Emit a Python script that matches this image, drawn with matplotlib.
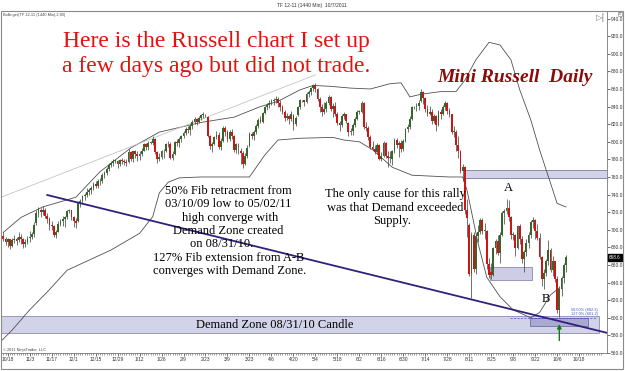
import matplotlib
matplotlib.use("Agg")
import matplotlib.pyplot as plt
from matplotlib.patches import Rectangle
import numpy as np

W, H = 625, 371          # output size in pixels
SERIF = "Liberation Serif"
SANS = "Liberation Sans"

# TF 12-11 daily bars, 10/14/2010 .. 10/7/2011 (one line per week)
opens = [
    693, 690,
    686, 689, 682, 688, 690,  688, 692, 689, 684, 686,  691, 692, 695, 708, 719,
    722, 720, 723, 716, 712,  705, 704, 694, 698, 707,  710, 712, 714, 721, 722,
    714, 710, 710, 730, 733,  738, 739, 743, 745, 748,  752, 750, 756, 755, 762,
    765, 769, 774, 776, 778,  778, 775, 779, 778, 777,  777, 788, 781, 789, 786,
    784, 786, 790, 797, 794,  799, 799, 803, 788, 781,  783, 789, 790, 797, 798,
    782, 786, 800, 799, 803,  806, 810, 815, 813, 818,  823, 826, 822, 827, 830,
    831, 828, 806, 795, 797,  805, 808, 794, 801, 816,  811, 803, 811, 807, 791,
    795, 790, 787, 775, 784,  795, 809, 806, 811, 818,  825, 823, 833, 839, 842,
    844, 846, 847, 849, 844,  839, 834, 827, 829, 826,  830, 820, 830, 839, 847,
    847, 845, 854, 857, 861,  864, 860, 849, 839, 834,  837, 844, 851, 837, 841,
    832, 821, 819, 829, 831,  821, 811, 812, 819, 826,  834, 834, 844, 817, 816,
    805, 794, 792, 788, 796,  781, 784, 799, 784, 782,  780, 789, 802, 796, 799,
    792, 801, 814, 817, 826,  839, 839, 841, 846, 857,  850, 837, 832, 834, 824,
    829, 819, 834, 831, 839,  844, 835, 831, 811, 811,  796, 789, 767, 771, 722,
    705, 650, 694, 655, 693,  697, 711, 699, 699, 661,  652, 649, 679, 687, 674,
    694, 719, 721, 725, 714,  694, 694, 679, 704, 689,  667, 675, 685, 694, 709,
    711, 699, 691, 669, 644,  651, 664, 677, 654, 664,  644, 609, 633, 645, 660,
]
highs = [
    697, 692,
    691, 690, 691, 694, 692,  697, 695, 691, 690, 693,  699, 698, 709, 722, 726,
    725, 727, 725, 719, 714,  710, 706, 700, 710, 712,  716, 716, 723, 724, 723,
    716, 713, 732, 735, 740,  742, 747, 747, 750, 754,  756, 758, 759, 764, 767,
    771, 776, 778, 780, 779,  779, 781, 782, 781, 780,  792, 790, 790, 791, 789,
    789, 793, 799, 799, 801,  801, 806, 804, 790, 787,  791, 792, 799, 801, 800,
    789, 801, 803, 805, 808,  812, 817, 818, 820, 825,  828, 827, 829, 832, 834,
    832, 829, 808, 800, 807,  812, 811, 804, 818, 818,  813, 813, 814, 808, 799,
    799, 793, 790, 787, 796,  811, 811, 813, 820, 827,  829, 834, 841, 844, 848,
    849, 850, 852, 851, 847,  842, 836, 833, 830, 835,  831, 829, 841, 849, 848,
    848, 856, 859, 862, 866,  867, 861, 851, 843, 845,  846, 853, 852, 844, 845,
    834, 824, 831, 834, 832,  822, 816, 821, 828, 836,  836, 846, 845, 823, 818,
    808, 801, 796, 799, 797,  788, 801, 800, 790, 789,  791, 804, 804, 801, 802,
    803, 816, 820, 829, 841,  841, 844, 847, 860, 858,  851, 842, 841, 837, 832,
    830, 836, 837, 842, 846,  845, 838, 832, 818, 813,  806, 791, 775, 772, 735,
    708, 697, 698, 696, 705,  713, 713, 708, 700, 668,  662, 681, 690, 694, 697,
    721, 724, 735, 734, 716,  697, 695, 706, 707, 693,  677, 690, 698, 711, 715,
    712, 707, 696, 670, 656,  667, 688, 679, 670, 665,  648, 636, 648, 662, 671,
]
lows = [
    687, 683,
    680, 678, 681, 685, 683,  686, 684, 679, 681, 684,  686, 689, 692, 706, 715,
    715, 717, 713, 708, 700,  700, 692, 691, 697, 704,  704, 703, 712, 719, 711,
    703, 702, 709, 726, 729,  734, 737, 739, 741, 745,  747, 748, 751, 753, 759,
    762, 767, 771, 773, 776,  770, 773, 775, 774, 772,  776, 778, 777, 782, 778,
    779, 784, 789, 791, 791,  797, 796, 786, 776, 778,  781, 782, 788, 794, 780,
    779, 785, 795, 794, 800,  804, 808, 810, 808, 814,  820, 819, 821, 825, 827,
    828, 805, 792, 788, 796,  803, 792, 791, 800, 807,  800, 801, 803, 788, 787,
    786, 775, 770, 774, 782,  794, 803, 802, 809, 816,  821, 821, 831, 836, 838,
    842, 842, 844, 840, 835,  832, 824, 825, 820, 824,  813, 818, 829, 837, 845,
    841, 844, 851, 853, 858,  856, 846, 834, 829, 832,  834, 842, 835, 828, 829,
    819, 812, 817, 826, 821,  806, 808, 808, 817, 825,  832, 833, 815, 812, 802,
    792, 791, 786, 786, 779,  778, 783, 782, 771, 776,  774, 787, 793, 783, 788,
    789, 800, 811, 815, 825,  837, 835, 836, 845, 843,  834, 829, 830, 820, 821,
    812, 818, 826, 830, 836,  832, 828, 809, 805, 789,  782, 764, 756, 718, 692,
    648, 622, 652, 650, 686,  695, 695, 690, 656, 645,  644, 648, 673, 671, 662,
    693, 707, 718, 710, 690,  688, 670, 678, 684, 662,  652, 670, 679, 691, 702,
    690, 688, 667, 636, 633,  647, 660, 652, 648, 641,  606, 601, 625, 640, 652,
]
closes = [
    690, 686,
    689, 682, 688, 690, 687,  692, 689, 684, 686, 690,  692, 695, 706, 719, 722,
    720, 723, 716, 712, 705,  704, 694, 697, 707, 710,  712, 714, 721, 722, 714,
    710, 708, 730, 733, 738,  739, 743, 745, 748, 752,  750, 756, 755, 762, 765,
    769, 774, 776, 778, 778,  775, 779, 778, 777, 776,  788, 781, 789, 786, 784,
    786, 790, 797, 794, 799,  799, 803, 788, 781, 783,  789, 790, 797, 798, 782,
    786, 800, 799, 803, 806,  810, 815, 813, 818, 823,  826, 822, 827, 830, 831,
    831, 806, 795, 797, 805,  808, 794, 801, 816, 811,  803, 811, 807, 791, 797,
    794, 787, 775, 784, 793,  809, 806, 811, 818, 825,  823, 833, 839, 842, 844,
    846, 847, 849, 844, 839,  834, 827, 829, 826, 832,  820, 827, 839, 847, 847,
    845, 854, 857, 861, 864,  860, 849, 839, 834, 837,  844, 851, 837, 841, 832,
    821, 819, 829, 831, 824,  811, 812, 819, 826, 834,  834, 844, 817, 816, 805,
    794, 792, 788, 796, 781,  784, 799, 784, 782, 782,  789, 802, 796, 799, 792,
    801, 814, 817, 826, 839,  839, 841, 844, 857, 850,  837, 832, 834, 824, 829,
    819, 834, 831, 839, 844,  835, 831, 811, 811, 796,  789, 767, 771, 722, 713,
    650, 694, 655, 693, 697,  711, 699, 699, 661, 649,  649, 679, 687, 674, 694,
    719, 721, 725, 714, 694,  694, 679, 704, 689, 667,  675, 685, 694, 709, 711,
    699, 691, 669, 644, 651,  664, 677, 654, 664, 644,  609, 633, 645, 660, 668.6,
]

# Bollinger bands (bar number, price)
upper_bars = [0, 8, 18, 33, 44, 58, 71, 90, 105, 117, 125, 135, 141, 149, 158, 167, 176,
              181, 185, 190, 199, 206, 210, 215, 221, 226, 231, 235, 240, 244, 249, 252, 256]
upper_band = [697, 714, 726, 737, 766, 793, 811, 822, 828, 840, 846, 859, 864, 863, 861, 860, 866,
              867, 851, 854, 857, 857, 870, 893, 913, 910, 893, 859, 825, 791, 753, 730, 726]
lower_bars = [-2, 4, 12, 21, 29, 49, 62, 68, 71, 75, 80, 90, 112, 119, 125, 135, 150,
              155, 162, 168, 177, 186, 203, 209, 211, 216, 220, 226, 232, 240, 244, 249, 253]
lower_band = [571, 586, 609, 632, 654, 677, 696, 715, 742, 754, 759, 760, 760, 785, 802, 804, 805,
              802, 800, 791, 771, 762, 760, 760, 745, 685, 646, 624, 609, 600, 606, 626, 634]

# drawn objects (bar number, price)
trend_bars = [20, 275]
trend_prices = [739.5, 582.7]
old_trend_bars = [-2, 142]
old_trend_prices = [736, 876]
demand_zone = (-1, 271, 582.5, 602.0)       # bar from, bar to, low, high
fib_zone = (239.6, 266, 590.7, 599.8)
ab_zone = (221.4, 240.5, 642.7, 657.5)
supply_zone = (210, 276, 759, 768)
fib_line_bars = [230.5, 270]
fib_price = 599.4
low_bar = 253
last_price = 668.6

x_labels = ["10/18", "11/3", "11/17", "12/1", "12/15", "12/29", "1/12", "1/26", "2/9",
            "2/23", "3/9", "3/23", "4/6", "4/20", "5/4", "5/18", "6/2", "6/16", "6/30",
            "7/14", "7/28", "8/11", "8/25", "9/8", "9/22", "10/6", "10/18"]


def ftext(fig, x, y, s, **kw):
    # place text by pixel position on the 625x371 canvas
    fig.text(x / W, 1 - y / H, s, **kw)


def draw_candles(ax):
    o = np.array(opens, float)
    h = np.array(highs, float)
    l = np.array(lows, float)
    c = np.array(closes, float)
    x = np.arange(len(c))
    up = c >= o
    ax.vlines(x, l, h, color="#4a4a4a", lw=0.55, zorder=3)
    body = np.maximum(np.abs(c - o), 0.8)
    colors = np.where(up, "#35662a", "#cc1616")
    ax.bar(x, body, bottom=np.minimum(o, c), width=0.82, color=colors,
           edgecolor="none", zorder=4)


def draw_zone(ax, zone, face, edge):
    x0, x1, p0, p1 = zone
    ax.add_patch(Rectangle((x0, p0), x1 - x0, p1 - p0, facecolor=face,
                           edgecolor=edge, lw=0.6, zorder=1))


def main():
    fig = plt.figure(figsize=(W / 100, H / 100), dpi=100)
    ax = fig.add_axes([2 / W, 1 - 353 / H, 605 / W, 342 / H])
    ax.set_xlim(-0.6, 274.7)
    ax.set_ylim(560, 948.6)

    # zones behind the candles
    draw_zone(ax, demand_zone, "#d2d2e9", "#8c8cb4")
    draw_zone(ax, supply_zone, "#d2d2e9", "#7a7aa6")
    draw_zone(ax, ab_zone, "#cdcde6", "#8a8ab2")
    draw_zone(ax, fib_zone, "#a9a9d2", "#6f6fa3")
    ax.plot(fib_line_bars, [fib_price, fib_price], color="#3a52c4", lw=0.5,
            ls=(0, (3, 2)), zorder=2)

    # bollinger bands + old gray trendline
    ax.plot(upper_bars, upper_band, color="#505050", lw=0.6, zorder=2)
    ax.plot(lower_bars, lower_band, color="#505050", lw=0.6, zorder=2)
    ax.plot(old_trend_bars, old_trend_prices, color="#c4c4c4", lw=0.6, zorder=2)

    draw_candles(ax)

    ax.plot(trend_bars, trend_prices, color="#33207c", lw=1.3, zorder=5)
    ax.annotate("", xy=(low_bar, 596), xytext=(low_bar, 571),
                arrowprops=dict(arrowstyle="-|>", color="#17781a", lw=1.0,
                                mutation_scale=6), zorder=6)

    ax.text(229.6, 744, "A", family=SERIF, fontsize=9, ha="center", va="baseline")
    ax.text(246.9, 618, "B", family=SERIF, fontsize=9, ha="center", va="baseline")

    # axes styling, NinjaTrader look
    ax.yaxis.tick_right()
    ax.set_yticks(np.arange(560, 941, 20))
    ax.set_yticklabels([f"{v:.1f}" for v in np.arange(560, 941, 20)])
    ax.set_xticks([2 + 10 * k for k in range(len(x_labels))])
    ax.set_xticklabels(x_labels)
    ax.set_xticks(np.arange(0, 273), minor=True)
    ax.tick_params(axis="both", which="major", labelsize=3.5, length=2, width=0.5,
                   pad=1, colors="#333333")
    ax.tick_params(axis="x", which="minor", length=1.6, width=0.4, colors="#555555")
    for side, sp in ax.spines.items():
        sp.set_linewidth(0.6)
        sp.set_color("#777777")
    ax.spines["top"].set_visible(False)
    ax.spines["left"].set_visible(False)
    for lab in ax.get_xticklabels() + ax.get_yticklabels():
        lab.set_family(SANS)

    # last price box
    ax.annotate(f"{last_price:.1f}", xy=(1.0, last_price), xycoords=("axes fraction", "data"),
                xytext=(1.5, 0), textcoords="offset points", ha="left", va="center",
                fontsize=3.3, color="white", family=SANS,
                bbox=dict(boxstyle="square,pad=0.15", fc="black", ec="black"))

    # frame around the chart panel
    fig.patches.append(Rectangle((1 / W, 1 - 369 / H), 622 / W, 358 / H,
                                 transform=fig.transFigure, fill=False,
                                 edgecolor="#8a8a8a", lw=0.8))

    # small header texts
    ftext(fig, 312, 7, "TF 12-11 (1440 Min)  10/7/2011", fontsize=3.6, ha="center",
          va="baseline", family=SANS, color="#333333")
    ftext(fig, 3, 16, "Bollinger(TF 12-11 (1440 Min),2,80)", fontsize=2.8,
          family=SANS, color="#444444", va="baseline")
    ftext(fig, 3, 351, "\u00a9 2011 NinjaTrader, LLC", fontsize=2.8, family=SANS,
          color="#444444", va="baseline")
    ftext(fig, 601, 20, "\u25b7|", fontsize=6, ha="center", va="baseline",
          family="DejaVu Sans", color="#777777")
    ftext(fig, 620, 15, "0", fontsize=3, ha="center", va="baseline", family=SANS,
          color="#555555", bbox=dict(boxstyle="square,pad=0.1", fc="white", ec="#777777", lw=0.4))
    ftext(fig, 598, 311, "50.00% (602.3)", fontsize=2.8, ha="right", va="baseline",
          family=SANS, color="#3a52c4")
    ftext(fig, 598, 315, "127.0% (601.2)", fontsize=2.8, ha="right", va="baseline",
          family=SANS, color="#3a52c4")

    # annotations
    red = "#e3120f"
    ftext(fig, 216, 47, "Here is the Russell chart I set up", fontsize=17,
          family=SERIF, color=red, ha="center", va="baseline")
    ftext(fig, 216, 72, "a few days ago but did not trade.", fontsize=17,
          family=SERIF, color=red, ha="center", va="baseline")
    ftext(fig, 515, 82, "Mini Russell  Daily", fontsize=14, family=SERIF,
          color="#8b0b0b", ha="center", va="baseline", weight="bold", style="italic")

    notes = [
        (228, 194, "50% Fib retracment from"),
        (228, 207, "03/10/09 low to 05/02/11"),
        (230, 221, "high converge with"),
        (228, 234, "Demand Zone created"),
        (222, 247, "on 08/31/10."),
        (229, 261, "127% Fib extension from A-B"),
        (230, 274, "converges with Demand Zone."),
        (395, 197, "The only cause for this rally"),
        (395, 211, "was that Demand exceeded"),
        (392, 224, "Supply."),
        (275, 328, "Demand Zone 08/31/10 Candle"),
    ]
    for x, y, s in notes:
        ftext(fig, x, y, s, fontsize=9, family=SERIF, color="black",
              ha="center", va="baseline")

    fig.savefig("out.png", dpi=100, facecolor="white")


if __name__ == "__main__":
    main()
